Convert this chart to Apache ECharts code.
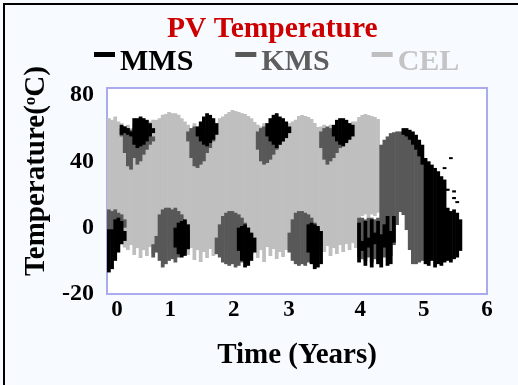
<!DOCTYPE html>
<html><head><meta charset="utf-8">
<script src="https://cdn.jsdelivr.net/npm/echarts@6/dist/echarts.min.js"></script>
<style>html,body{margin:0;padding:0;background:#f7fbff}#c{width:518px;height:385px}</style>
</head><body><div id="c"></div>
<script>
const FONT = '"Liberation Serif","Times New Roman",serif';
// axis ticks and their printed labels (bottom tick is printed "-20" in the original)
const yTicks = [-40, 0, 40, 80];
const yTickText = ['-20', '0', '40', '80'];
const xTicks = [0, 1, 2, 3, 4, 5, 6];
// time bin width (years)
const BIN = 0.05;

// CEL : envelope per 0.05-year bin starting at t = 0
const celStart = 0;
const celHi = [66,65,67,64, 63,61,62,60,62,61,63,62,64,64,65, 65,66,68,68.5,69.7,69,69,68,66,64,
  62,60,63,61,62,60,62,63,64,63, 66,67,68.5,69.7,71,70.4,69.7,69,68.5,67.3,66,63.7,
  62,61,63,60,62,61,62,63,61,62,63,64, 65,67.3,67.9,67.3,66.7,65.5,63.1,60.7,
  61,62,60,62,61,63,62,61,62,63,64,64, 66.7,67.9,68.5,67.9,67.3,66.7,65.5];
const celLo = [-8,-6,-9,-7,-10,-12, -13.5,-10.5,-16.5,-12.3,-18.3,-13.5,-17.1,-11.7,-15.9,
  -10,-8,-9,-7,-10,-8,-11,-9,-12,-14, -16.5,-12.3,-19.5,-13.5,-20.7,-14.7,-18.3,-12.9,-17.1,-13.5,
  -9,-11,-8,-10,-12,-9,-11,-10,-13,-9,-12,-14, -18.3,-13.5,-20.7,-11.7,-17.1,-12.9,-18.9,-14.7,-17.7,-13.5,
  -11,-9,-12,-10,-8,-11,-9,-12,-10,-13,-11, -14.7,-11.1,-17.1,-12.3,-15.9,-10.5,-14.7,-9.9,-13.5,-9.3,-12.3,
  5,7,8,6,8,7,9];

// KMS : visible ranges (bin start time, low, high)
const kmsT = [0,0.05,0.1,0.15,0.2,0.25, 0.2,0.25,0.3,0.35,0.4,0.45,0.5,0.55,0.6,0.65,0.7,
  0.7,0.75,0.8,0.85,0.9,0.95,1.0,1.05,1.1,1.15,1.2,1.25, 1.25,1.3,1.35,1.4,1.45,1.5,1.55,1.6,1.65,
  1.7,1.75,1.8,1.85,1.9,1.95,2.0,2.05,2.1,2.15,2.2,2.25, 2.35,2.4,2.45,2.5,2.55,2.6,2.65,2.7,2.75,
  2.85,2.9,2.95,3.0,3.05,3.1,3.15,3.2,3.25,3.3, 3.35,3.4,3.45,3.5,3.55,3.6,3.65,3.7,3.75,
  3.95,4.0,4.05,4.1,4.15,4.2,4.25, 4.3,4.35,4.4,4.45,4.5,4.55,4.6,4.65,4.7,4.75,4.8,4.85,4.9,4.95];
const kmsHi = [11,10,11,9,8,5, 60,61,60,59,60,58,59,58,57,56,55,
  -10,-5,8,11,12,12,11,12,10,8,4,-2, 58,60,61,60,61,59,58,57,56,
  -6,2,7,9,10,10,9,8,6,3,0,-4, 58,60,61,60,59,58,57,56,55,
  -3,5,9,10,10,9,8,6,3,0, 58,60,61,60,59,58,57,56,55,
  6,6,5,6,6,5,6, 50,53,55,57,57.5,58,58,57.5,56,55,53,50,46,41];
const kmsLo = [-5,-3,-8,-6,-4,0, 55,45,37,35,42,38,40,44,47,50,52,
  -18,-15,-20,-24,-22,-20,-19,-21,-18,-17,-15,-12, 52,42,37,36,38,40,45,48,52,
  -16,-18,-21,-22,-23,-22,-24,-23,-21,-20,-18,-16, 47,40,38,39,41,44,47,50,52,
  -15,-20,-22,-23,-22,-23,-21,-20,-19,-17, 48,41,38,40,42,45,48,50,52,
  -18,-19,-20,-18,-21,-19,-20, -16,-18,-15,-17,-10.5,1.6,9.4,7.6,-1.4,-13.5,-22,-22,-21,-20];

// MMS : visible ranges (bin start time, low, high)
const mmsT = [0,0.05,0.1,0.15,0.2,0.25, 0.2,0.25,0.3,0.35,0.4,0.45,0.5,0.55,0.6,0.65,0.7,
  1.05,1.1,1.15,1.2,1.25, 1.4,1.45,1.5,1.55,1.6,1.65,1.7, 2.05,2.1,2.15,2.2,2.25,2.3,
  2.5,2.55,2.6,2.65,2.7,2.75,2.8,2.85, 3.15,3.2,3.25,3.3,3.35, 3.55,3.6,3.65,3.7,3.75,3.8,3.85,
  3.95,4.0,4.05,4.1,4.15,4.2,4.25, 4.3,4.35,4.4,4.45,4.5, 4.65,4.7,4.75,4.8,4.85,4.9,4.95,
  5.0,5.05,5.1,5.15,5.2,5.25,5.3,5.35,5.4,5.45,5.5,5.55, 5.3,5.35,5.4,5.45,5.45,5.5];
const mmsHi = [-1,-1,5,6,4,-2, 62,61,60,58,66,66,67,66,65,63,60,
  0,3,4,5,2, 61,64,67,69,68,66,63, 0,1,2,0,-3,-6,
  63,66,68,69,67,66,64,61, 2,3,2,1,-2, 62,65,66,66,65,63,62,
  3,-8,4,-6,5,-3,4, -4,2,7,-2,7, 60,60,59,58,56,53,50,
  42,40,38,36,34,31,29,12,10,11,9,5, 36.5,23.5,42.5,22.5,18.5,16];
const mmsLo = [-27,-25,-20,-15,-10,-8, 56,57,56,55,50,48,49,50,52,55,57,
  -12,-16,-18,-17,-13, 55,52,50,49,51,53,56, -14,-20,-24,-23,-20,-15,
  55,52,50,48,50,52,54,57, -15,-22,-25,-24,-22, 55,52,50,49,51,53,55,
  -21,-14,-23,-12,-24,-10,-22, -24,-12,-23,-22,-9, 56,55,53,50,47,43,38,
  -22,-23,-20,-24,-22,-23,-21,-20,-21,-19,-18,-14, 35.3,22.2,41.3,21.2,17.2,14.8];

const celData = celHi.map((h, i) => [celStart + i * BIN, celLo[i], h]);
const kmsData = kmsT.map((t, i) => [t, kmsLo[i], kmsHi[i]]);
const mmsData = mmsT.map((t, i) => [t, mmsLo[i], mmsHi[i]]);

function renderRange(params, api) {
  const t = api.value(0), lo = api.value(1), hi = api.value(2);
  const a = api.coord([t, hi]);
  const b = api.coord([t + BIN, lo]);
  return {
    type: 'rect',
    shape: { x: a[0], y: a[1], width: b[0] - a[0] + 0.6, height: Math.max(1, b[1] - a[1]) },
    style: { fill: api.visual('color') }
  };
}
function rangeSeries(name, color, data) {
  return {
    type: 'custom', name: name, data: data, renderItem: renderRange,
    encode: { x: 0, y: [1, 2] }, itemStyle: { color: color }, color: color, clip: true
  };
}

const chart = echarts.init(document.getElementById('c'), null, { renderer: 'canvas' });
const bold = { fontFamily: FONT, fontWeight: 'bold', color: '#000' };
chart.setOption({
  animation: false,
  backgroundColor: '#f7fbff',
  graphic: [{ type: 'rect', shape: { x: 4, y: 4, width: 700, height: 700 },
    style: { fill: 'none', stroke: '#000', lineWidth: 2 }, silent: true }],
  title: {
    text: 'PV Temperature', left: 167, top: 14, padding: 0,
    textStyle: { fontFamily: FONT, fontWeight: 'bold', fontSize: 29.5, color: '#cc0000' }
  },
  legend: {
    left: 94, top: 47.5, padding: 0, itemWidth: 21, itemHeight: 21, itemGap: 42,
    icon: 'path://M0,0H21V5H0Z M0,20.95H0.02V21H0Z',
    selectedMode: false,
    data: [
      { name: 'MMS', textStyle: { color: '#000000' } },
      { name: 'KMS', textStyle: { color: '#5e5e5e' } },
      { name: 'CEL', textStyle: { color: '#c4c4c4' } }
    ],
    textStyle: { fontFamily: FONT, fontWeight: 'bold', fontSize: 30 }
  },
  grid: { left: 107, right: 31, top: 88, bottom: 91, show: true, backgroundColor: '#ffffff',
    borderColor: '#aaaaee', borderWidth: 2 },
  xAxis: {
    type: 'value', min: xTicks[0], max: xTicks[xTicks.length - 1], interval: 1,
    axisLine: { show: false }, axisTick: { show: false }, splitLine: { show: false },
    axisLabel: Object.assign({ fontSize: 23, margin: 5,
      formatter: v => v === 0 ? '{a|0}' : (v === 3 ? '{b|3}' : String(v)),
      rich: {
        a: Object.assign({ fontSize: 23, padding: [0, 0, 0, 20] }, bold),
        b: Object.assign({ fontSize: 23, padding: [0, 16, 0, 0] }, bold)
      } }, bold),
    name: 'Time (Years)', nameLocation: 'middle', nameGap: 47,
    nameTextStyle: Object.assign({ fontSize: 29 }, bold)
  },
  yAxis: {
    type: 'value', min: yTicks[0], max: 84.2, interval: 40,
    axisLine: { show: false }, axisTick: { show: false }, splitLine: { show: false },
    axisLabel: Object.assign({ fontSize: 24, margin: 13, showMaxLabel: false,
      formatter: v => { const i = yTicks.indexOf(v); return i >= 0 ? yTickText[i] : ''; } }, bold),
    name: 'Temperature({o|o}C)', nameLocation: 'middle', nameGap: 52,
    nameTextStyle: Object.assign({ fontSize: 29, padding: [0, 0, 0, 40],
      rich: { o: Object.assign({ fontSize: 17, verticalAlign: 'top' }, bold) } }, bold)
  },
  series: [
    rangeSeries('CEL', '#bfbfbf', celData),
    rangeSeries('KMS', '#585858', kmsData),
    rangeSeries('MMS', '#000000', mmsData)
  ]
});
</script></body></html>
